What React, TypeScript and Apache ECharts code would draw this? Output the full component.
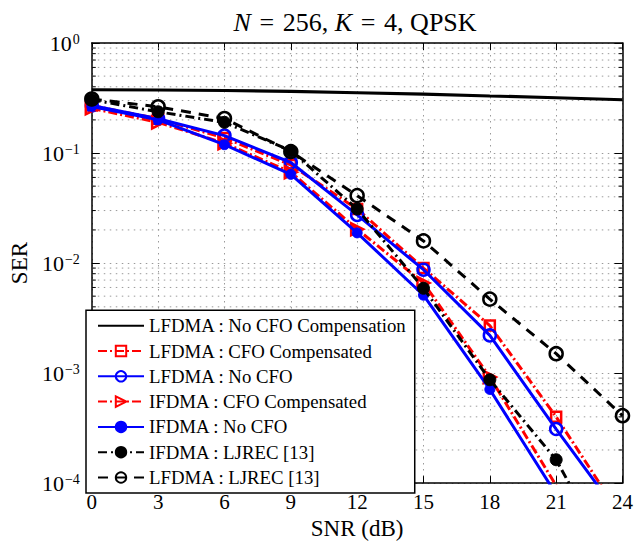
import React, { useEffect, useRef } from "react";
import * as echarts from "echarts";

const SNR = [0, 3, 6, 9, 12, 15, 18, 21, 24];
const Y_DECADES = [1e-4, 1e-3, 1e-2, 1e-1, 1];

const LFDMA_NO_COMP = [0.376, 0.374, 0.37, 0.363, 0.353, 0.343, 0.33, 0.318, 0.305];
const LFDMA_COMP = [0.27, 0.205, 0.137, 0.078, 0.031, 0.009, 0.0027, 0.0004, 0.000048];
const LFDMA_NOCFO = [0.27, 0.205, 0.144, 0.082, 0.0274, 0.0087, 0.0022, 0.00031, 0.000047];
const IFDMA_COMP = [0.255, 0.19, 0.123, 0.067, 0.0203, 0.0066, 0.00092, 0.000095, 0.00001];
const IFDMA_NOCFO = [0.265, 0.2, 0.119, 0.064, 0.0188, 0.0051, 0.00071, 0.000079, 0.000008];
const IFDMA_LJREC = [0.305, 0.237, 0.19, 0.105, 0.031, 0.0059, 0.00087, 0.000163, 0.000013];
const LFDMA_LJREC = [0.31, 0.263, 0.206, 0.103, 0.041, 0.0159, 0.0047, 0.0015, 0.00041];

const NAMES = [
  "LFDMA : No CFO Compensation",
  "LFDMA : CFO Compensated",
  "LFDMA : No CFO",
  "IFDMA : CFO Compensated",
  "IFDMA : No CFO",
  "IFDMA : LJREC [13]",
  "LFDMA : LJREC [13]",
];

const MINOR_MULTS = [2, 3, 4, 5, 6, 7, 8, 9];

const FONT = "Liberation Serif";
const RED = "#ff0000";
const BLUE = "#0000ff";
const BLACK = "#000000";
const GRIDC = "#9a9a9a";

function pairs(ys: number[]) {
  return SNR.map((x, i) => [x, ys[i]]);
}

export default function App() {
  const ref = useRef<HTMLDivElement>(null);
  useEffect(() => {
    document.body.style.margin = "0";
    if (!ref.current) return;
    const chart = echarts.init(ref.current, null, { renderer: "svg" });

    const minorVals: number[][] = [];
    Y_DECADES.slice(0, -1).forEach((d) => {
      MINOR_MULTS.forEach((m) => minorVals.push([0, d * m]));
    });

    const sp = "\u2004";
    const option: any = {
      animation: false,
      backgroundColor: "#ffffff",
      grid: { left: 86, right: 11, top: 43, bottom: 52, containLabel: false },
      graphic: [
        {
          type: "text",
          x: 355,
          y: 9,
          style: {
            text: "{i|N}" + sp + "=" + sp + "256, {i|K}" + sp + "=" + sp + "4, QPSK",
            align: "center",
            verticalAlign: "top",
            fontFamily: FONT,
            fontSize: 26,
            fill: "#000",
            rich: {
              i: { fontFamily: FONT, fontSize: 26, fontStyle: "italic", fill: "#000" },
            },
          },
        },
      ],
      xAxis: [
        {
          type: "value",
          min: 0,
          max: 24,
          interval: 3,
          name: "SNR (dB)",
          nameLocation: "middle",
          nameGap: 31,
          nameTextStyle: { fontFamily: FONT, fontSize: 23, color: "#000" },
          axisLine: { show: true, onZero: false, lineStyle: { color: "#000", width: 1.5 } },
          axisTick: { show: true, inside: true, length: 7, lineStyle: { color: "#000", width: 1 } },
          axisLabel: { fontFamily: FONT, fontSize: 21, color: "#000", margin: 8 },
          splitLine: { show: true, lineStyle: { color: GRIDC, width: 1, type: [1.5, 4.5] } },
        },
        {
          type: "value",
          position: "top",
          min: 0,
          max: 24,
          interval: 3,
          axisLine: { show: true, onZero: false, lineStyle: { color: "#000", width: 1.5 } },
          axisTick: { show: true, inside: true, length: 7, lineStyle: { color: "#000", width: 1 } },
          axisLabel: { show: false },
          splitLine: { show: false },
        },
      ],
      yAxis: [
        {
          type: "log",
          logBase: 10,
          min: 1e-4,
          max: 1,
          name: "SER",
          nameLocation: "middle",
          nameGap: 54,
          nameTextStyle: { fontFamily: FONT, fontSize: 23, color: "#000" },
          axisLine: { show: true, onZero: false, lineStyle: { color: "#000", width: 1.5 } },
          axisTick: { show: true, inside: true, length: 8, lineStyle: { color: "#000", width: 1 } },
          axisLabel: {
            margin: 12,
            formatter: (v: number) => {
              const e = Math.round(Math.log10(v));
              const s = e === 0 ? "0" : "\u2212" + Math.abs(e);
              return "{a|10}{b|" + s + "}";
            },
            rich: {
              a: { fontFamily: FONT, fontSize: 22, color: "#000", verticalAlign: "bottom", lineHeight: 22 },
              b: {
                fontFamily: FONT,
                fontSize: 14,
                color: "#000",
                verticalAlign: "top",
                lineHeight: 15,
                padding: [0, 0, 11, 1],
              },
            },
          },
          splitLine: { show: true, lineStyle: { color: GRIDC, width: 1, type: [1.5, 4.5] } },
        },
        {
          type: "log",
          logBase: 10,
          min: 1e-4,
          max: 1,
          position: "right",
          axisLine: { show: true, onZero: false, lineStyle: { color: "#000", width: 1.5 } },
          axisTick: { show: true, inside: true, length: 8, lineStyle: { color: "#000", width: 1 } },
          axisLabel: { show: false },
          splitLine: { show: false },
        },
      ],
      legend: {
        data: [
          {
            name: NAMES[0],
            itemStyle: { color: "rgba(0,0,0,0)", borderColor: "rgba(0,0,0,0)", borderWidth: 0, opacity: 0 },
          },
          NAMES[1],
          NAMES[2],
          NAMES[3],
          NAMES[4],
          NAMES[5],
          NAMES[6],
        ],
        orient: "vertical",
        left: 86,
        bottom: 52,
        backgroundColor: "#ffffff",
        borderColor: "#000",
        borderWidth: 1.5,
        borderRadius: 0,
        padding: [5, 8, 5, 11],
        itemWidth: 46,
        itemHeight: 13,
        itemGap: 4.3,
        textStyle: { fontFamily: FONT, fontSize: 18.8, color: "#000", lineHeight: 21 },
        selectedMode: false,
      },
      series: [
        {
          type: "custom",
          name: "minor",
          xAxisIndex: 0,
          yAxisIndex: 0,
          silent: true,
          z: 1,
          data: minorVals,
          renderItem: (params: any, api: any) => {
            const cs = params.coordSys;
            const y = api.coord([0, api.value(1)])[1];
            return {
              type: "group",
              children: [
                {
                  type: "line",
                  shape: { x1: cs.x, y1: y, x2: cs.x + cs.width, y2: y },
                  style: { stroke: GRIDC, lineWidth: 1, lineDash: [1.5, 4.5] },
                },
                {
                  type: "line",
                  shape: { x1: cs.x, y1: y, x2: cs.x + 4, y2: y },
                  style: { stroke: "#000", lineWidth: 1 },
                },
                {
                  type: "line",
                  shape: { x1: cs.x + cs.width - 4, y1: y, x2: cs.x + cs.width, y2: y },
                  style: { stroke: "#000", lineWidth: 1 },
                },
              ],
            };
          },
        },
        {
          name: NAMES[0],
          type: "line",
          data: pairs(LFDMA_NO_COMP),
          showSymbol: false,
          symbol: "none",
          lineStyle: { color: BLACK, width: 3.2 },
          itemStyle: { color: BLACK },
          z: 3,
        },
        {
          name: NAMES[1],
          type: "line",
          data: pairs(LFDMA_COMP),
          symbol: "rect",
          symbolSize: 10,
          lineStyle: { color: RED, width: 3, type: [9, 3, 2, 3] },
          itemStyle: { color: "rgba(255,255,255,0)", borderColor: RED, borderWidth: 2.5 },
          z: 4,
        },
        {
          name: NAMES[2],
          type: "line",
          data: pairs(LFDMA_NOCFO),
          symbol: "circle",
          symbolSize: 12,
          lineStyle: { color: BLUE, width: 3 },
          itemStyle: { color: "rgba(255,255,255,0)", borderColor: BLUE, borderWidth: 2.5 },
          z: 5,
        },
        {
          name: NAMES[3],
          type: "line",
          data: pairs(IFDMA_COMP),
          symbol: "triangle",
          symbolRotate: -90,
          symbolSize: 12,
          lineStyle: { color: RED, width: 3, type: [9, 3, 2, 3] },
          itemStyle: { color: "rgba(255,255,255,0)", borderColor: RED, borderWidth: 2.5 },
          z: 6,
        },
        {
          name: NAMES[4],
          type: "line",
          data: pairs(IFDMA_NOCFO),
          symbol: "circle",
          symbolSize: 10,
          lineStyle: { color: BLUE, width: 3 },
          itemStyle: { color: BLUE, borderColor: BLUE, borderWidth: 1 },
          z: 7,
        },
        {
          name: NAMES[5],
          type: "line",
          data: pairs(IFDMA_LJREC),
          symbol: "circle",
          symbolSize: 12,
          lineStyle: { color: BLACK, width: 3, type: [9, 4, 2, 4] },
          itemStyle: { color: BLACK, borderColor: BLACK, borderWidth: 1 },
          z: 8,
        },
        {
          name: NAMES[6],
          type: "line",
          data: pairs(LFDMA_LJREC),
          symbol: "circle",
          symbolSize: 13,
          lineStyle: { color: BLACK, width: 3, type: [10, 8] },
          itemStyle: { color: "rgba(255,255,255,0)", borderColor: BLACK, borderWidth: 2.5 },
          z: 9,
        },
      ],
    };
    chart.setOption(option);
    return () => chart.dispose();
  }, []);
  return <div ref={ref} style={{ width: 636, height: 545 }} />;
}
